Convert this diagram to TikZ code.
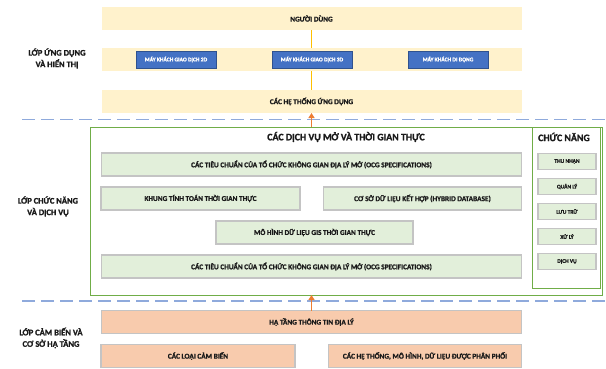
\documentclass[tikz,border=0pt]{standalone}
\usepackage{fontspec}
\setmainfont{Carlito}[BoldFont={Carlito Bold}, BoldFeatures={FakeBold=1.3}]
\usetikzlibrary{arrows.meta}
\definecolor{yfill}{HTML}{FFF2CC}
\definecolor{gfill}{HTML}{E2EFDA}
\definecolor{ofill}{HTML}{F8CBAD}
\definecolor{bfill}{HTML}{4472C4}
\definecolor{bdark}{HTML}{2F528F}
\definecolor{gbord}{HTML}{C4C4C4}
\definecolor{gline}{HTML}{70AD47}
\definecolor{dashc}{HTML}{8FAADC}
\definecolor{ylinec}{HTML}{FFC000}
\definecolor{olinec}{HTML}{ED7D31}
\definecolor{txt}{HTML}{1A1A1A}
\tikzset{
  base/.style={rectangle, inner sep=0pt, outer sep=0pt, align=center, text=txt,
    font=\bfseries\fontsize{7.3}{9}\selectfont},
  band/.style={base, fill=yfill, draw=none, minimum width=420pt, minimum height=23pt},
  client/.style={base, fill=bfill, draw=bdark, line width=0.8pt, text=white,
    minimum width=80pt, minimum height=17pt, font=\bfseries\fontsize{5.6}{7}\selectfont},
  gbox/.style={base, fill=gfill, draw=gbord, line width=1.1pt, minimum height=23pt},
  obox/.style={base, fill=ofill, draw=gbord, line width=1.1pt, minimum height=23pt},
  fbox/.style={base, fill=gfill, draw=gbord, line width=1.1pt, minimum width=58pt,
    minimum height=16pt, font=\bfseries\fontsize{5.5}{7}\selectfont},
  frame/.style={rectangle, inner sep=0pt, outer sep=0pt, draw=gline, line width=0.9pt},
  layer/.style={base, font=\bfseries\fontsize{8.5}{11.5}\selectfont},
  title/.style={base, font=\bfseries\fontsize{9.9}{12}\selectfont},
  sep/.style={draw=dashc, line width=1.3pt, dash pattern=on 13pt off 6pt},
  yl/.style={draw=ylinec, line width=1.6pt},
  oarr/.style={draw=olinec, line width=1.6pt, -{Triangle[width=6pt,length=5pt]}}
}
\begin{document}
\begin{tikzpicture}[x=1pt, y=-1pt]
\useasboundingbox (0,0) rectangle (606,368);
% separators
\coordinate (s1a) at (22,119.5); \coordinate (s1b) at (605,119.5);
\coordinate (s2a) at (22,301); \coordinate (s2b) at (605,301);
\draw[sep] (s1a) -- (s1b);
\draw[sep] (s2a) -- (s2b);
% application layer
\node[band] (user) at (311.5,18.5) {NGƯỜI DÙNG};
\node[band] (cband) at (311.5,59.5) {};
\node[band] (apps) at (311.5,101.5) {CÁC HỆ THỐNG ỨNG DỤNG};
\draw[yl] (user.south) -- (user.south |- cband.north);
\draw[yl] (cband.south) -- (apps.north);
\node[client] (c2d) at (176,59.5) {MÁY KHÁCH GIAO DỊCH 2D};
\node[client] (c3d) at (312,59.5) {MÁY KHÁCH GIAO DỊCH 3D};
\node[client] (cmob) at (448,59.5) {MÁY KHÁCH DI ĐỘNG};
% service layer
\node[frame, minimum width=511.5pt, minimum height=168pt] (svc) at (346.25,211) {};
\node[frame, minimum width=68pt, minimum height=161pt] (fn) at (566,207.5) {};
\node[title] (svct) at (346,137) {CÁC DỊCH VỤ MỞ VÀ THỜI GIAN THỰC};
\node[title] (fnt) at (564,137) {CHỨC NĂNG};
\node[gbox, minimum width=420pt] (ocg1) at (311.5,164.5) {CÁC TIÊU CHUẨN CỦA TỔ CHỨC KHÔNG GIAN ĐỊA LÝ MỞ (OCG SPECIFICATIONS)};
\node[gbox, minimum width=199pt] (rt) at (200.5,198.5) {KHUNG TÍNH TOÁN THỜI GIAN THỰC};
\node[gbox, minimum width=198pt] (hdb) at (422.5,198.5) {CƠ SỞ DỮ LIỆU KẾT HỢP (HYBRID DATABASE)};
\node[gbox, minimum width=197pt] (gis) at (314.5,232.5) {MÔ HÌNH DỮ LIỆU GIS THỜI GIAN THỰC};
\node[gbox, minimum width=420pt] (ocg2) at (311.5,266.5) {CÁC TIÊU CHUẨN CỦA TỔ CHỨC KHÔNG GIAN ĐỊA LÝ MỞ (OCG SPECIFICATIONS)};
\node[fbox] (f1) at (567,161.5) {THU NHẬN};
\node[fbox] (f2) at (567,186.5) {QUẢN LÝ};
\node[fbox] (f3) at (567,211.5) {LƯU TRỮ};
\node[fbox] (f4) at (567,236.5) {XỬ LÝ};
\node[fbox] (f5) at (567,261.5) {DỊCH VỤ};
% infrastructure layer
\node[obox, minimum width=420pt] (infra) at (311.5,322) {HẠ TẦNG THÔNG TIN ĐỊA LÝ};
\node[obox, minimum width=194pt] (sens) at (198,356) {CÁC LOẠI CẢM BIẾN};
\node[obox, minimum width=193pt] (dist) at (425,356) {CÁC HỆ THỐNG, MÔ HÌNH, DỮ LIỆU ĐƯỢC PHÂN PHỐI};
% arrows
\draw[oarr] (apps.south |- svc.north) -- (apps.south);
\draw[oarr] (infra.north) -- (infra.north |- svc.south);
% layer labels
\node[layer] (l1) at (57,58.5) {LỚP ỨNG DỤNG\\VÀ HIỂN THỊ};
\node[layer] (l2) at (48,206.5) {LỚP CHỨC NĂNG\\VÀ DỊCH VỤ};
\node[layer] (l3) at (51,338) {LỚP CẢM BIẾN VÀ\\CƠ SỞ HẠ TẦNG};
\end{tikzpicture}
\end{document}
